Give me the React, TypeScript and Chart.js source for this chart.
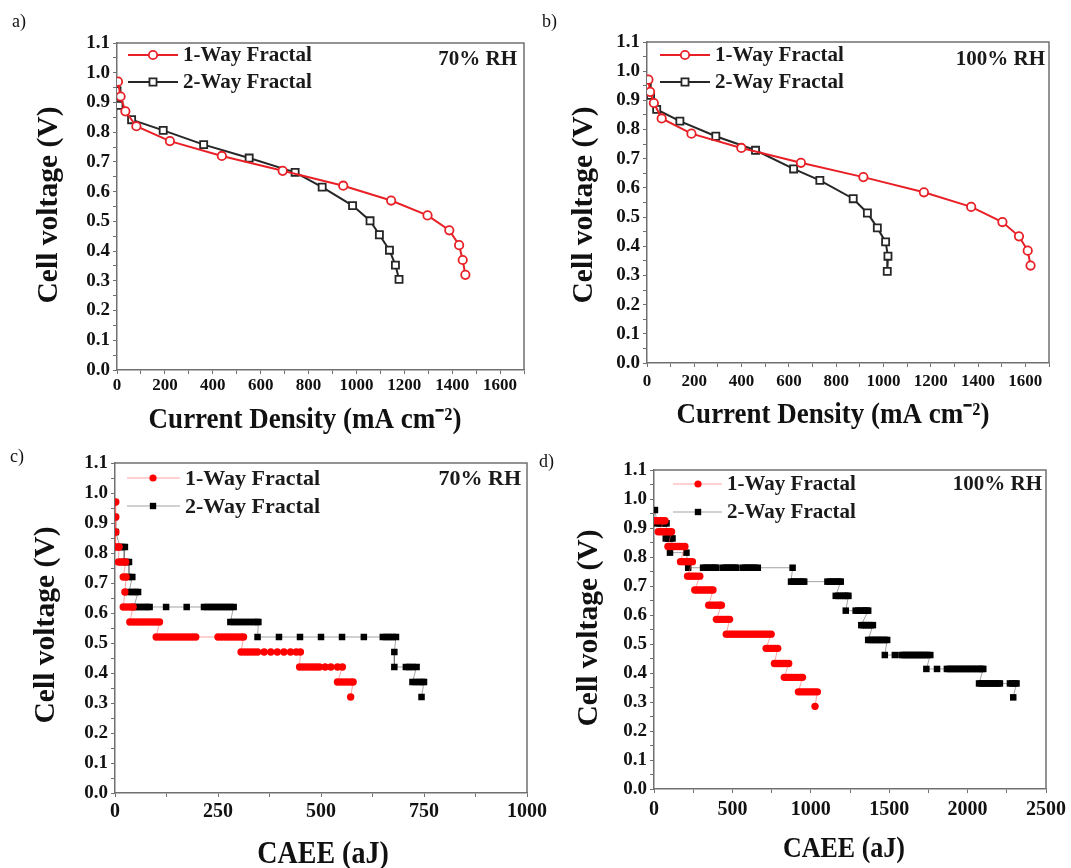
import React, { useEffect, useRef } from 'react';
import { Chart, registerables } from 'chart.js';

Chart.register(...registerables);

const FONT = '"Liberation Serif", "Times New Roman", Times, serif';

// ---------- Panel a (70% RH, polarization) ----------
const aOneX = [4, 15, 35, 81, 221, 438, 692, 945, 1145, 1297, 1388, 1429, 1444, 1455];
const aOneY = [0.97, 0.92, 0.87, 0.82, 0.77, 0.72, 0.67, 0.62, 0.57, 0.52, 0.47, 0.42, 0.37, 0.32];
const aTwoX = [0, 8, 61, 193, 362, 552, 744, 857, 984, 1057, 1096, 1138, 1163, 1178];
const aTwoY = [0.94, 0.89, 0.842, 0.806, 0.758, 0.713, 0.665, 0.615, 0.553, 0.502, 0.455, 0.403, 0.353, 0.305];

// ---------- Panel b (100% RH, polarization) ----------
const bOneX = [6, 13, 29, 62, 188, 399, 651, 915, 1171, 1371, 1503, 1573, 1610, 1622];
const bOneY = [0.971, 0.929, 0.891, 0.838, 0.786, 0.737, 0.686, 0.637, 0.585, 0.535, 0.483, 0.434, 0.385, 0.334];
const bTwoX = [1, 15, 41, 139, 291, 459, 620, 731, 872, 932, 974, 1009, 1019, 1016];
const bTwoY = [0.949, 0.917, 0.869, 0.829, 0.777, 0.729, 0.665, 0.626, 0.563, 0.514, 0.463, 0.415, 0.366, 0.314];

// ---------- Panel c (70% RH, CAEE) : voltage levels and CAEE values at each level ----------
const cOneLevels = [0.97, 0.92, 0.87, 0.82, 0.77, 0.72, 0.67, 0.62, 0.57, 0.52, 0.47, 0.42, 0.37, 0.32];
const cOneCaee = [
  [2],
  [2],
  [2],
  [0, 5, 10],
  [8, 14, 20, 26],
  [20, 27],
  [24],
  [20, 28, 36, 44],
  [36, 44, 52, 60, 68, 76, 84, 92, 100, 108],
  [100, 108, 116, 124, 132, 140, 148, 156, 164, 172, 180, 188, 196, 250, 258, 266, 274, 282, 290, 298, 306, 312],
  [306, 314, 322, 330, 338, 346, 362, 378, 394, 410, 426, 440, 450],
  [448, 456, 464, 472, 480, 488, 496, 510, 524, 540, 552],
  [540, 548, 556, 564, 572, 578],
  [572],
];
const cTwoLevels = [0.92, 0.87, 0.82, 0.77, 0.72, 0.67, 0.62, 0.57, 0.52, 0.47, 0.42, 0.37, 0.32];
const cTwoCaee = [
  [0],
  [2],
  [12, 18, 24],
  [22, 28, 34],
  [34, 42],
  [34, 42, 50, 56],
  [46, 54, 62, 70, 78, 84, 124, 174, 216, 224, 232, 240, 248, 256, 264, 272, 280, 288],
  [280, 288, 296, 304, 312, 320, 328, 336, 344, 348],
  [346, 398, 449, 500, 551, 604, 650, 658, 666, 674, 682],
  [678],
  [678, 706, 714, 722, 732],
  [722, 730, 738, 746, 750],
  [744],
];

// ---------- Panel d (100% RH, CAEE) ----------
const dOneLevels = [0.925, 0.887, 0.836, 0.784, 0.734, 0.686, 0.634, 0.585, 0.534, 0.485, 0.433, 0.385, 0.335, 0.285];
const dOneCaee = [
  [0, 15, 30, 45, 60, 70],
  [27, 42, 57, 72, 87, 100, 112],
  [89, 104, 119, 134, 149, 164, 179, 197],
  [169, 184, 199, 214, 229, 245],
  [214, 229, 244, 259, 274, 292],
  [260, 275, 290, 305, 320, 335, 350, 365, 376],
  [349, 364, 379, 394, 409, 420, 430],
  [398, 413, 428, 443, 458, 470, 482],
  [461, 476, 491, 506, 521, 536, 551, 566, 581, 596, 611, 626, 641, 656, 671, 686, 701, 716, 731, 747],
  [715, 730, 745, 760, 775, 789],
  [768, 783, 798, 813, 828, 843, 859],
  [831, 846, 861, 876, 891, 906, 921, 936, 947],
  [921, 936, 951, 966, 981, 996, 1011, 1026, 1042],
  [1027],
];
const dTwoLevels = [0.962, 0.916, 0.864, 0.815, 0.763, 0.715, 0.666, 0.615, 0.565, 0.514, 0.462, 0.414, 0.364, 0.316];
const dTwoCaee = [
  [6],
  [20, 35, 50, 65, 80],
  [75, 90, 105, 118],
  [102, 207],
  [218, 313, 328, 343, 358, 373, 388, 398, 440, 455, 470, 485, 500, 515, 525, 567, 582, 597, 612, 627, 642, 662, 884],
  [874, 889, 904, 919, 934, 949, 958, 1106, 1121, 1136, 1151, 1166, 1181, 1191],
  [1159, 1174, 1189, 1204, 1219, 1232, 1240],
  [1223, 1286, 1301, 1316, 1331, 1346, 1356, 1366],
  [1322, 1337, 1352, 1367, 1382, 1396],
  [1366, 1381, 1396, 1411, 1426, 1441, 1456, 1471, 1487],
  [1472, 1536, 1578, 1593, 1608, 1623, 1638, 1653, 1668, 1683, 1698, 1713, 1728, 1743, 1762],
  [1737, 1805, 1868, 1883, 1898, 1913, 1928, 1943, 1958, 1973, 1988, 2003, 2018, 2033, 2048, 2063, 2078, 2090, 2100],
  [2073, 2088, 2103, 2118, 2133, 2148, 2163, 2178, 2193, 2206, 2270, 2285, 2300, 2312],
  [2291],
];

const seriesNames = ['1-Way Fractal', '2-Way Fractal'];
const yTitle = 'Cell voltage (V)';
const xTitleJ = 'Current Density (mA cm\u207B\u00B2)';
const xTitleCaee = 'CAEE (aJ)';

type Pt = { x: number; y: number };
const zipPts = (xs: number[], ys: number[]): Pt[] => xs.map((x, i) => ({ x, y: ys[i] }));
const levelPts = (levels: number[], runs: number[][]): Pt[] => {
  const out: Pt[] = [];
  levels.forEach((v, i) => runs[i].forEach((x) => out.push({ x, y: v })));
  return out;
};

const W = 1071;
const H = 868;

type PanelCfg = {
  area: { L: number; T: number; R: number; B: number };
  xMax: number;
  xStep: number;
  xLabelEvery: number;
  xLabelMax: number;
  xTickSize: number;
  xTickPad: number;
  filled: boolean;
  one: Pt[];
  two: Pt[];
  letter: { text: string; x: number; y: number };
  legend: { x1: number; x2: number; mx: number; tx: number; y1: number; y2: number; size: number };
  rh: { text: string; right: number; y: number };
  yT: { x: number; y: number; size: number };
  xT: { text: string; x: number; y: number; size: number };
};

const RED_OPEN = 'rgb(232,32,38)';
const BLK_OPEN = '#262626';

const panels: PanelCfg[] = [
  {
    area: { L: 117, T: 43, R: 524, B: 370 },
    xMax: 1700, xStep: 100, xLabelEvery: 200, xLabelMax: 1600, xTickSize: 17, xTickPad: 1,
    filled: false,
    one: zipPts(aOneX, aOneY),
    two: zipPts(aTwoX, aTwoY),
    letter: { text: 'a)', x: 12, y: 22 },
    legend: { x1: 128, x2: 178, mx: 153, tx: 183, y1: 55, y2: 82, size: 21 },
    rh: { text: '70% RH', right: 517, y: 59 },
    yT: { x: 50, y: 205, size: 29 },
    xT: { text: xTitleJ, x: 305, y: 420, size: 27 },
  },
  {
    area: { L: 647, T: 42, R: 1049, B: 363 },
    xMax: 1700, xStep: 100, xLabelEvery: 200, xLabelMax: 1600, xTickSize: 17, xTickPad: 4,
    filled: false,
    one: zipPts(bOneX, bOneY),
    two: zipPts(bTwoX, bTwoY),
    letter: { text: 'b)', x: 542, y: 22 },
    legend: { x1: 660, x2: 710, mx: 685, tx: 715, y1: 55, y2: 82, size: 21 },
    rh: { text: '100% RH', right: 1045, y: 59 },
    yT: { x: 585, y: 205, size: 29 },
    xT: { text: xTitleJ, x: 833, y: 415, size: 27 },
  },
  {
    area: { L: 115, T: 463, R: 527, B: 793 },
    xMax: 1000, xStep: 125, xLabelEvery: 250, xLabelMax: 1000, xTickSize: 20, xTickPad: 3,
    filled: true,
    one: levelPts(cOneLevels, cOneCaee),
    two: levelPts(cTwoLevels, cTwoCaee),
    letter: { text: 'c)', x: 10, y: 457 },
    legend: { x1: 127, x2: 180, mx: 153, tx: 185, y1: 478, y2: 506, size: 22 },
    rh: { text: '70% RH', right: 521, y: 478 },
    yT: { x: 47, y: 625, size: 29 },
    xT: { text: xTitleCaee, x: 323, y: 855, size: 28 },
  },
  {
    area: { L: 654, T: 470, R: 1048, B: 789 },
    xMax: 2500, xStep: 250, xLabelEvery: 500, xLabelMax: 2500, xTickSize: 20, xTickPad: 5,
    filled: true,
    one: levelPts(dOneLevels, dOneCaee),
    two: levelPts(dTwoLevels, dTwoCaee),
    letter: { text: 'd)', x: 539, y: 462 },
    legend: { x1: 673, x2: 722, mx: 698, tx: 727, y1: 484, y2: 512, size: 21 },
    rh: { text: '100% RH', right: 1042, y: 484 },
    yT: { x: 590, y: 628, size: 29 },
    xT: { text: xTitleCaee, x: 844, y: 850, size: 26 },
  },
];

function drawMarker(ctx: CanvasRenderingContext2D, kind: 'circle' | 'rect', x: number, y: number, r: number, filled: boolean, color: string) {
  ctx.save();
  ctx.beginPath();
  if (kind === 'circle') {
    ctx.arc(x, y, r, 0, Math.PI * 2);
  } else {
    const s = r / Math.SQRT2;
    ctx.rect(x - s, y - s, 2 * s, 2 * s);
  }
  if (filled) {
    ctx.fillStyle = color;
    ctx.fill();
  } else {
    ctx.fillStyle = '#fff';
    ctx.fill();
    ctx.lineWidth = 1.8;
    ctx.strokeStyle = color;
    ctx.stroke();
  }
  ctx.restore();
}

function makeDecor(p: PanelCfg) {
  return {
    id: 'decor',
    afterDraw(chart: any) {
      const ctx: CanvasRenderingContext2D = chart.ctx;
      const a = chart.chartArea;
      ctx.save();
      // frame (top & right)
      ctx.strokeStyle = '#707070';
      ctx.lineWidth = 1.5;
      ctx.beginPath();
      ctx.moveTo(a.left, a.top);
      ctx.lineTo(a.right, a.top);
      ctx.lineTo(a.right, a.bottom);
      ctx.stroke();

      // panel letter
      ctx.fillStyle = '#111';
      ctx.font = `18px ${FONT}`;
      ctx.textBaseline = 'middle';
      ctx.textAlign = 'left';
      ctx.fillText(p.letter.text, p.letter.x, p.letter.y);

      // legend
      const L = p.legend;
      const rows = [
        { y: L.y1, kind: 'circle' as const, color: p.filled ? '#ff0000' : RED_OPEN, line: p.filled ? 'rgba(255,90,90,0.55)' : RED_OPEN },
        { y: L.y2, kind: 'rect' as const, color: p.filled ? '#000' : BLK_OPEN, line: p.filled ? 'rgba(90,90,90,0.55)' : BLK_OPEN },
      ];
      rows.forEach((r, i) => {
        ctx.strokeStyle = r.line;
        ctx.lineWidth = p.filled ? 1 : 2;
        ctx.beginPath();
        ctx.moveTo(L.x1, r.y);
        ctx.lineTo(L.x2, r.y);
        ctx.stroke();
        drawMarker(ctx, r.kind, L.mx, r.y, p.filled ? (r.kind === 'rect' ? 4.5 : 3.6) : (r.kind === 'rect' ? 5 : 4.2), p.filled, r.color);
        ctx.fillStyle = '#1a1a1a';
        ctx.font = `bold ${L.size}px ${FONT}`;
        ctx.textAlign = 'left';
        ctx.textBaseline = 'middle';
        ctx.fillText(seriesNames[i], L.tx, r.y + 1);
      });

      // RH annotation
      ctx.font = `bold ${L.size}px ${FONT}`;
      ctx.textAlign = 'right';
      ctx.fillText(p.rh.text, p.rh.right, p.rh.y + 1);

      // axis titles
      ctx.fillStyle = '#111';
      ctx.textAlign = 'center';
      ctx.textBaseline = 'middle';
      ctx.save();
      ctx.translate(p.xT.x, p.xT.y);
      ctx.scale(1, 1.1);
      ctx.font = `bold ${p.xT.size}px ${FONT}`;
      ctx.fillText(p.xT.text, 0, 0);
      ctx.restore();
      ctx.save();
      ctx.translate(p.yT.x, p.yT.y);
      ctx.rotate(-Math.PI / 2);
      ctx.scale(1.02, 1);
      ctx.font = `bold ${p.yT.size}px ${FONT}`;
      ctx.fillText(yTitle, 0, 0);
      ctx.restore();
      ctx.restore();
    },
  };
}

function buildConfig(p: PanelCfg): any {
  const yW = 70;
  const xH = 50;
  const red = p.filled ? '#ff0000' : RED_OPEN;
  const blk = p.filled ? '#000000' : BLK_OPEN;
  const dsOne = p.filled
    ? {
        label: seriesNames[0], data: p.one, borderColor: 'rgba(255,90,90,0.55)', borderWidth: 1,
        pointStyle: 'circle', pointRadius: 3.7, pointBackgroundColor: red, pointBorderColor: red, pointBorderWidth: 0,
      }
    : {
        label: seriesNames[0], data: p.one, borderColor: red, borderWidth: 2,
        pointStyle: 'circle', pointRadius: 4.2, pointBackgroundColor: '#ffffff', pointBorderColor: red, pointBorderWidth: 1.8,
      };
  const dsTwo = p.filled
    ? {
        label: seriesNames[1], data: p.two, borderColor: 'rgba(90,90,90,0.55)', borderWidth: 1,
        pointStyle: 'rect', pointRadius: 4.6, pointBackgroundColor: blk, pointBorderColor: blk, pointBorderWidth: 0,
      }
    : {
        label: seriesNames[1], data: p.two, borderColor: blk, borderWidth: 2,
        pointStyle: 'rect', pointRadius: 5, pointBackgroundColor: '#ffffff', pointBorderColor: blk, pointBorderWidth: 1.8,
      };
  return {
    type: 'line',
    data: { datasets: [dsOne, dsTwo].map((d) => ({ ...d, tension: 0, fill: false, showLine: true })) },
    options: {
      animation: false,
      responsive: false,
      events: [],
      layout: {
        padding: {
          left: p.area.L - yW,
          top: p.area.T,
          right: W - p.area.R,
          bottom: H - p.area.B - xH,
        },
      },
      plugins: { legend: { display: false }, tooltip: { enabled: false }, title: { display: false } },
      scales: {
        x: {
          type: 'linear',
          min: 0,
          max: p.xMax,
          afterFit: (s: any) => { s.height = xH; },
          border: { display: true, color: '#707070', width: 1.5 },
          grid: { drawOnChartArea: false, drawTicks: true, tickLength: 4, tickColor: '#707070', tickWidth: 1 },
          ticks: {
            stepSize: p.xStep,
            autoSkip: false,
            maxRotation: 0,
            padding: p.xTickPad,
            color: '#111',
            font: { family: FONT, size: p.xTickSize, weight: 'bold' },
            callback: (v: number) => {
              const r = Math.round(v);
              if (r % p.xLabelEvery !== 0 || r > p.xLabelMax) return '';
              return String(r);
            },
          },
        },
        y: {
          type: 'linear',
          min: 0,
          max: 1.1,
          afterFit: (s: any) => { s.width = yW; },
          border: { display: true, color: '#707070', width: 1.5 },
          grid: { drawOnChartArea: false, drawTicks: true, tickLength: 4, tickColor: '#707070', tickWidth: 1 },
          ticks: {
            stepSize: 0.05,
            autoSkip: false,
            padding: 3,
            color: '#111',
            font: { family: FONT, size: 19, weight: 'bold' },
            callback: (v: number) => {
              const r = Math.round(v * 100);
              if (r % 10 !== 0) return '';
              return (r / 100).toFixed(1);
            },
          },
        },
      },
    },
    plugins: [makeDecor(p)],
  };
}

function Panel({ cfg }: { cfg: PanelCfg }) {
  const ref = useRef<HTMLCanvasElement | null>(null);
  useEffect(() => {
    if (!ref.current) return;
    const chart = new Chart(ref.current, buildConfig(cfg));
    return () => chart.destroy();
  }, [cfg]);
  return (
    <canvas
      ref={ref}
      width={W}
      height={H}
      style={{ position: 'absolute', left: 0, top: 0, width: W, height: H }}
    />
  );
}

export default function App() {
  return (
    <div style={{ position: 'absolute', left: 0, top: 0, width: W, height: H, background: '#fff', overflow: 'hidden' }}>
      {panels.map((p, i) => (
        <Panel key={i} cfg={p} />
      ))}
    </div>
  );
}
